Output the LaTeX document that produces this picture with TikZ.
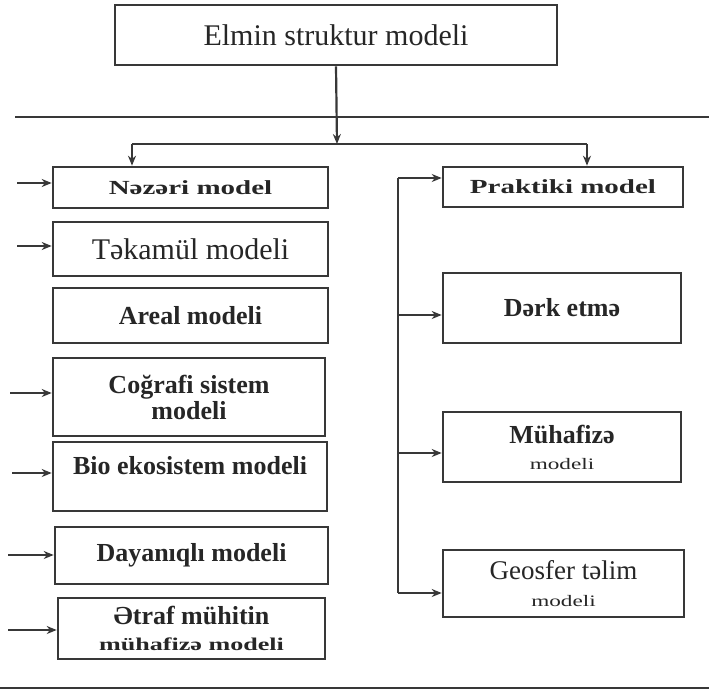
\documentclass[tikz,border=0pt]{standalone}
\usepackage{fontspec}
\setmainfont{Liberation Serif}
\newfontfamily\widefont{Liberation Serif}[FakeStretch=1.45]
\usetikzlibrary{positioning, arrows.meta, calc}

\newcommand{\fs}[1]{\fontsize{#1}{#1}\selectfont}

\tikzset{
  modelbox/.style={draw=black!78, line width=2.6pt, minimum width=275,
    inner sep=0pt, align=center, text=black!85},
  line/.style={draw=black!78, line width=2.2pt},
  arr/.style={line, -{Stealth[length=10pt, width=8pt]}},
}

\begin{document}
\begin{tikzpicture}[x=1pt, y=-1pt]
		\useasboundingbox (0,0) rectangle (709,693);
		
		\node[modelbox, minimum width=442, minimum height=60, font=\fs{30}] (title) at (336,35) {Elmin struktur modeli};
		
		% Left column
		\node[modelbox, minimum height=41, font=\widefont\bfseries\fs{20}] (nazari) at ($(title)+(-145.5,152.5)$) {Nəzəri model};
		\node[modelbox, minimum height=54, font=\fs{30}] (takamul) at ($(title)+(-145.5,214)$) {Təkamül modeli};
		\node[modelbox, minimum height=55, font=\bfseries\fs{26}] (areal) at ($(title)+(-145.5,280.5)$) {Areal modeli};
		\node[modelbox, minimum width=272, minimum height=78, font=\bfseries\fs{26}] (cografi) at ($(title)+(-147,362)$) {Coğrafi sistem\\modeli};
		\node[modelbox, minimum width=274, minimum height=69, text depth=22, font=\bfseries\fs{26}] (bio) at ($(title)+(-146,441.5)$) {Bio ekosistem modeli};
		\node[modelbox, minimum width=273, minimum height=57, font=\bfseries\fs{26}] (dayaniqli) at ($(title)+(-144.5,520.5)$) {Dayanıqlı modeli};
		\node[modelbox, minimum width=267, minimum height=61, font=\bfseries\fs{26}] (etraf) at ($(title)+(-144.5,593.5)$) {Ətraf mühitin\\{\widefont\fs{18}mühafizə modeli}};
		
		% Right column
		\node[modelbox, minimum width=240, minimum height=40, font=\widefont\bfseries\fs{20}] (praktiki) at ($(title)+(227,152)$) {Praktiki model};
		\node[modelbox, minimum width=238, minimum height=70, font=\bfseries\fs{26}] (dark) at ($(title)+(226,273)$) {Dərk etmə};
		\node[modelbox, minimum width=238, minimum height=70, font=\bfseries\fs{26}] (muhafize) at ($(title)+(226,412)$) {Mühafizə\\{\widefont\mdseries\fs{16}modeli}};
		\node[modelbox, minimum width=241, minimum height=67, font=\fs{27}] (geosfer) at ($(title)+(227.5,548.5)$) {Geosfer təlim\\{\widefont\fs{16}modeli}};
		
		% Rules
		\coordinate (ruleL) at (15,117);
		\coordinate (ruleR) at (709,117);
		\coordinate (baseL) at (0,688);
		\coordinate (baseR) at (709,688);
		\draw[line] (ruleL) -- (ruleR);
		\draw[line] (baseL) -- (baseR);
		
		% Top connections
		\coordinate (split) at (337,144);
		\coordinate (bl) at (132,144);
		\coordinate (br) at (587,144);
		\draw[arr] (title.south) -- (split);
		\draw[line] (bl) -- (br);
		\draw[arr] (bl) -- (bl |- nazari.north);
		\draw[arr] (br) -- (br |- praktiki.north);
		
		% Inputs on the left
		\coordinate (in1) at (17,183);
		\coordinate (in2) at (17,246);
		\coordinate (in3) at (10,393);
		\coordinate (in4) at (12,473);
		\coordinate (in5) at (8,555);
		\coordinate (in6) at (8,630);
		\foreach \c/\m in {in1/nazari, in2/takamul, in3/cografi, in4/bio, in5/dayaniqli, in6/etraf}
			\draw[arr] (\c) -- (\c -| \m.west);
		
		% Bus on the right
		\coordinate (b1) at (398,178);
		\coordinate (b2) at (398,315);
		\coordinate (b3) at (398,453);
		\coordinate (b4) at (398,593);
		\draw[line] (b1) -- (b4);
		\foreach \c/\m in {b1/praktiki, b2/dark, b3/muhafize, b4/geosfer}
			\draw[arr] (\c) -- (\c -| \m.west);
	\end{tikzpicture}
\end{document}
